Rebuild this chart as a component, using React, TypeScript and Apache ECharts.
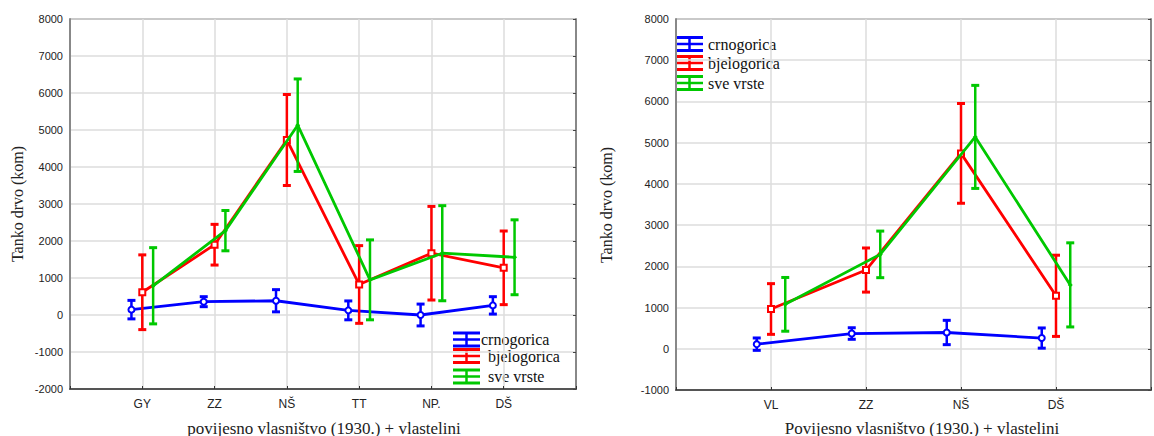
import React, { useEffect, useRef } from "react";
import * as echarts from "echarts";

// ---------- data ----------
const leftCategories = ["GY", "ZZ", "NŠ", "TT", "NP.", "DŠ"];
const rightCategories = ["VL", "ZZ", "NŠ", "DŠ"];
const seriesNames = ["crnogorica", "bjelogorica", "sve vrste"];

const leftCrnMean = [145, 360, 385, 125, 0, 260];
const leftCrnCi = [250, 135, 300, 255, 295, 235];
const leftBjeMean = [615, 1900, 4730, 825, 1670, 1275];
const leftBjeCi = [1010, 550, 1230, 1050, 1265, 995];
const leftSveMean = [790, 2280, 5130, 950, 1670, 1560];
const leftSveCi = [1030, 545, 1250, 1080, 1285, 1012];

const rightCrnMean = [112, 370, 395, 260];
const rightCrnCi = [150, 140, 295, 245];
const rightBjeMean = [965, 1910, 4740, 1285];
const rightBjeCi = [615, 535, 1210, 985];
const rightSveMean = [1078, 2290, 5140, 1550];
const rightSveCi = [652, 565, 1250, 1020];

const leftYTicks = { min: -2000, max: 8000, interval: 1000 };
const rightYTicks = { min: -1000, max: 8000, interval: 1000 };

const COLORS = ["#0000ff", "#ff0000", "#00c800"];
const SYMBOLS = ["emptyCircle", "emptyRect", "diamond"];
const SYMBOL_SIZES = [6, 6, 5];
const OFFSETS = [-0.15, 0, 0.15];

const SANS = '"Liberation Sans", Arial, sans-serif';
const SERIF = '"Liberation Serif", "Times New Roman", serif';

function makeSeries(
  axisIdx: number,
  yIdx: number,
  means: number[],
  cis: number[],
  k: number
) {
  const color = COLORS[k];
  const off = OFFSETS[k];
  const errData = means.map((m, i) => [i + 1 + off, m, cis[i]]);
  const lineData = means.map((m, i) => [i + 1 + off, m]);
  return [
    {
      type: "custom",
      xAxisIndex: axisIdx,
      yAxisIndex: yIdx,
      z: 3 + k,
      data: errData,
      encode: { x: 0, y: 1 },
      renderItem: (params: any, api: any) => {
        const x = api.value(0);
        const m = api.value(1);
        const e = api.value(2);
        const top = api.coord([x, m + e]);
        const bot = api.coord([x, m - e]);
        const st = { stroke: color, lineWidth: 2.5 };
        const cap = { stroke: color, lineWidth: 3 };
        return {
          type: "group",
          children: [
            { type: "line", shape: { x1: top[0], y1: top[1], x2: bot[0], y2: bot[1] }, style: st },
            { type: "line", shape: { x1: top[0] - 4, y1: top[1], x2: top[0] + 4, y2: top[1] }, style: cap },
            { type: "line", shape: { x1: bot[0] - 4, y1: bot[1], x2: bot[0] + 4, y2: bot[1] }, style: cap },
          ],
        };
      },
    },
    {
      type: "line",
      name: seriesNames[k],
      xAxisIndex: axisIdx,
      yAxisIndex: yIdx,
      z: 3 + k,
      data: lineData,
      symbol: SYMBOLS[k],
      symbolSize: SYMBOL_SIZES[k],
      lineStyle: { color, width: 2.8 },
      itemStyle: { color, borderWidth: 1 },
    },
  ];
}

function legendGraphic(x: number, ys: number[], textXs: number[]) {
  const out: any[] = [];
  ys.forEach((cy, k) => {
    const c = COLORS[k];
    const w = 27;
    out.push(
      { type: "line", shape: { x1: x, y1: cy - 6.5, x2: x + w, y2: cy - 6.5 }, style: { stroke: c, lineWidth: 3 } },
      { type: "line", shape: { x1: x, y1: cy + 6.5, x2: x + w, y2: cy + 6.5 }, style: { stroke: c, lineWidth: 3 } },
      { type: "line", shape: { x1: x + w / 2, y1: cy - 6.5, x2: x + w / 2, y2: cy + 6.5 }, style: { stroke: c, lineWidth: 2.5 } },
      { type: "line", shape: { x1: x, y1: cy, x2: x + w, y2: cy }, style: { stroke: c, lineWidth: 2.5 } },
      {
        type: "text",
        x: textXs[k],
        y: cy,
        style: {
          text: seriesNames[k],
          font: `16px ${SERIF}`,
          fill: "#111",
          align: "left",
          verticalAlign: "middle",
          textAlign: "left",
          textVerticalAlign: "middle",
        },
      }
    );
  });
  return out;
}

function textEl(x: number, y: number, text: string, size: number, rotation = 0) {
  return {
    type: "text",
    x,
    y,
    rotation,
    style: {
      text,
      font: `${size}px ${SERIF}`,
      fill: "#222",
      align: "center",
      verticalAlign: "middle",
      textAlign: "center",
      textVerticalAlign: "middle",
    },
  };
}

function xAxisDef(gridIndex: number, cats: string[]) {
  return {
    type: "value",
    gridIndex,
    min: 0,
    max: cats.length + 1,
    interval: 1,
    axisLine: { show: true, onZero: false, lineStyle: { color: "#555", width: 2 } },
    axisTick: { show: true, inside: true, length: 3, lineStyle: { color: "#333", width: 1 } },
    axisLabel: {
      fontFamily: SANS,
      fontSize: 12,
      color: "#222",
      margin: 9,
      formatter: (v: number) => cats[Math.round(v) - 1] ?? "",
    },
    splitLine: { show: true, lineStyle: { color: "#dcdcdc", width: 1.5 } },
  };
}

function yAxisDef(gridIndex: number, t: { min: number; max: number; interval: number }, right: boolean) {
  return {
    type: "value",
    gridIndex,
    position: right ? "right" : "left",
    min: t.min,
    max: t.max,
    interval: t.interval,
    axisLine: { show: true, onZero: false, lineStyle: { color: "#888", width: 2 } },
    axisTick: { show: right, inside: true, length: 3, lineStyle: { color: "#444" } },
    axisLabel: {
      show: !right,
      fontFamily: SANS,
      fontSize: 11,
      color: "#222",
      margin: 7,
      formatter: (v: number) => String(v),
    },
    splitLine: { show: !right, lineStyle: { color: "#dcdcdc", width: 1.5 } },
  };
}

export default function App() {
  const ref = useRef<HTMLDivElement>(null);
  useEffect(() => {
    if (!ref.current) return;
    const chart = echarts.init(ref.current, undefined, { renderer: "svg" });
    const series: any[] = [
      ...makeSeries(0, 0, leftCrnMean, leftCrnCi, 0),
      ...makeSeries(0, 0, leftBjeMean, leftBjeCi, 1),
      ...makeSeries(0, 0, leftSveMean, leftSveCi, 2),
      ...makeSeries(1, 2, rightCrnMean, rightCrnCi, 0),
      ...makeSeries(1, 2, rightBjeMean, rightBjeCi, 1),
      ...makeSeries(1, 2, rightSveMean, rightSveCi, 2),
    ];
    chart.setOption({
      animation: false,
      backgroundColor: "#ffffff",
      grid: [
        { left: 70, top: 19, width: 506, height: 370, show: true, borderColor: "#222", borderWidth: 1, backgroundColor: "transparent" },
        { left: 676, top: 19, width: 488, height: 371, show: true, borderColor: "#222", borderWidth: 1, backgroundColor: "transparent" },
      ],
      xAxis: [xAxisDef(0, leftCategories), xAxisDef(1, rightCategories)],
      yAxis: [
        yAxisDef(0, leftYTicks, false),
        yAxisDef(0, leftYTicks, true),
        yAxisDef(1, rightYTicks, false),
        yAxisDef(1, rightYTicks, true),
      ],
      series,
      graphic: [
        textEl(17, 204, "Tanko drvo (kom)", 16, Math.PI / 2),
        textEl(606, 205, "Tanko drvo (kom)", 16, Math.PI / 2),
        textEl(324, 428, "povijesno vlasništvo (1930.) + vlastelini", 17),
        textEl(922, 428, "Povijesno vlasništvo (1930.) + vlastelini", 17),
        { type: "rect", shape: { x: 452, y: 327, width: 122, height: 61 }, style: { fill: "#fff" } },
        ...legendGraphic(453, [339.5, 356, 376.5], [481, 488, 488]),
        { type: "rect", shape: { x: 677, y: 31, width: 95, height: 64 }, style: { fill: "#fff" } },
        ...legendGraphic(676, [44, 63, 83], [708, 708, 708]),
      ],
    });
    return () => chart.dispose();
  }, []);
  return (
    <div
      ref={ref}
      style={{ position: "absolute", left: 0, top: 0, width: 1154, height: 436 }}
    />
  );
}
